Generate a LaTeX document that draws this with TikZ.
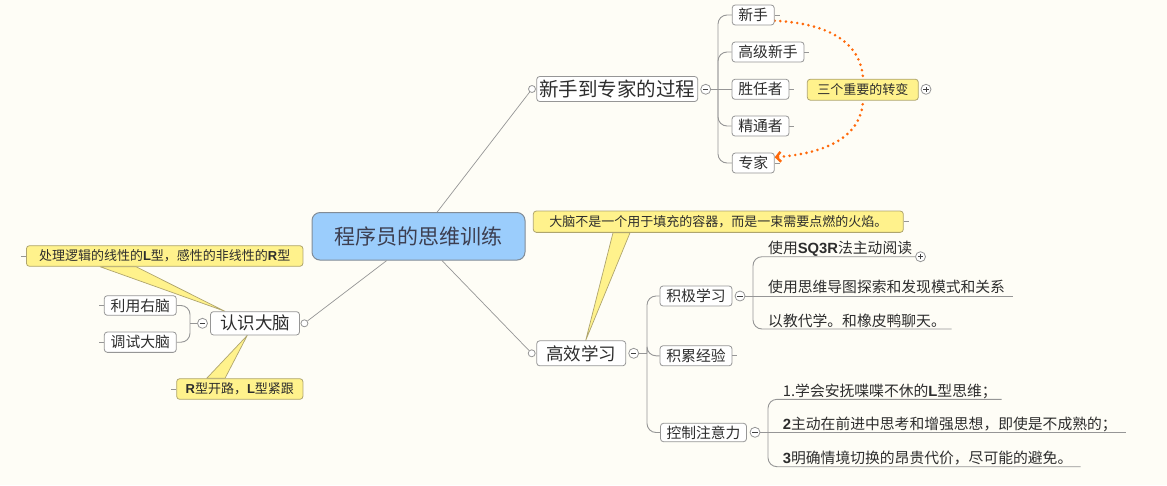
\documentclass[tikz,border=0pt]{standalone}
\usepackage{fontspec}
\setmainfont{Noto Sans CJK SC}
\newfontfamily\lat{Liberation Sans}
\usetikzlibrary{arrows.meta}
\pgfdeclarelayer{back}
\pgfdeclarelayer{bg}
\pgfsetlayers{back,bg,main}
\definecolor{bgc}{RGB}{254,253,246}
\definecolor{bord}{RGB}{150,150,150}
\definecolor{lin}{RGB}{150,150,150}
\definecolor{txt}{RGB}{45,45,45}
\definecolor{rootfill}{RGB}{155,205,252}
\definecolor{rootbord}{RGB}{130,140,150}
\definecolor{roottxt}{RGB}{60,62,80}
\definecolor{yel}{RGB}{255,242,140}
\definecolor{ybord}{RGB}{175,165,110}
\definecolor{orng}{RGB}{255,105,10}
\newcommand\myfs[1]{\fontsize{#1}{#1}\selectfont}
\newcommand\lb[1]{{\lat\bfseries #1}}
\begin{document}
\begin{tikzpicture}[x=1pt,y=-1pt,
  every node/.style={inner sep=0pt, text=txt},
  mbox/.style={draw=bord, fill=white, rounded corners=3pt, line width=0.8pt},
  ycall/.style={draw=ybord, fill=yel, rounded corners=3pt, line width=0.8pt},
  ptr/.style={draw=ybord, fill=yel, line width=0.7pt, line join=round},
  conn/.style={draw=lin, line width=0.9pt},
  rootconn/.style={draw=lin, line width=0.7pt},
  elbow/.style={conn, rounded corners=9pt},
  smallc/.style={circle, draw=bord, fill=white, minimum size=7pt, line width=0.8pt},
  minusc/.style={circle, draw=bord, fill=white, minimum size=10pt, line width=0.8pt,
    path picture={\draw[line width=1pt, black!75]
      ([xshift=-2.6pt]path picture bounding box.center) -- ([xshift=2.6pt]path picture bounding box.center);}},
  plusc/.style={minusc, path picture={\draw[line width=1pt, black!75]
      ([xshift=-2.6pt]path picture bounding box.center) -- ([xshift=2.6pt]path picture bounding box.center)
      ([yshift=-2.6pt]path picture bounding box.center) -- ([yshift=2.6pt]path picture bounding box.center);}},
  dotline/.style={draw=orng, line width=2.9pt, line cap=round, dash pattern=on 0pt off 5.7pt}
]
\begin{pgfonlayer}{back}
\fill[bgc] (0,0) rectangle (1167,485);
\end{pgfonlayer}
\useasboundingbox (0,0) rectangle (1167,485);

% root
\node[mbox, fill=rootfill, draw=rootbord, rounded corners=8pt, line width=1pt,
  minimum width=213pt, minimum height=47.5pt, text=roottxt] (root) at (418.5,236.3) {\myfs{21}程序员的思维训练};

% ---------- branch 1
\node[mbox, minimum width=161pt, minimum height=25pt] (n1) at (617.2,89) {\myfs{19.5}新手到专家的过程};
\node[smallc] (n1c) at (532,89) {};
\node[minusc] (m1) at (705.7,89.3) {};
\coordinate (j1) at (718,89.3);
\node[mbox, minimum width=42pt, minimum height=20pt] (a1) at (753.2,15) {\myfs{14.8}新手};
\node[mbox, minimum width=72pt, minimum height=20pt] (a2) at (768,52) {\myfs{14.8}高级新手};
\node[mbox, minimum width=57pt, minimum height=20pt] (a3) at (760.5,89.3) {\myfs{14.8}胜任者};
\node[mbox, minimum width=57pt, minimum height=20pt] (a4) at (760.5,126) {\myfs{14.8}精通者};
\node[mbox, minimum width=42pt, minimum height=20pt] (a5) at (753.3,163) {\myfs{14.8}专家};
\node[ycall, minimum width=111pt, minimum height=21pt] (c1) at (862.8,89.7) {\myfs{13}三个重要的转变};
\node[plusc] (p1) at (926,89.3) {};

\draw[rootconn] (root) -- (n1c);
\draw[conn] (m1) -- (j1);
\draw[elbow] (j1) |- (a1);
\draw[elbow] (j1) |- (a2);
\draw[conn] (j1) -- (a3);
\draw[elbow] (j1) |- (a4);
\draw[elbow] (j1) |- (a5);
\foreach \n in {a1,a2,a3,a4,a5} \draw[conn] (\n.east) -- ++(5,0);

\begin{pgfonlayer}{bg}
\draw[dotline, -{Straight Barb[length=4.5pt,width=10pt,line width=2.4pt]}]
  (a1.-15) .. controls (842,24) and (866.5,52) .. (c1.center)
  .. controls (866.5,127) and (842,152) .. (a5.15);
\end{pgfonlayer}

% ---------- branch 2
\node[mbox, minimum width=89pt, minimum height=23.3pt] (n2) at (255,323.3) {\myfs{17.5}认识大脑};
\node[smallc] (n2c) at (304.4,323.3) {};
\node[minusc] (m2) at (202.5,323.3) {};
\coordinate (j2) at (190,323.3);
\node[mbox, minimum width=72pt, minimum height=19.6pt] (b1) at (140.3,305.5) {\myfs{14.8}利用右脑};
\node[mbox, minimum width=72pt, minimum height=20.3pt] (b2) at (140.3,342.2) {\myfs{14.8}调试大脑};
\node[ycall, minimum width=276.5pt, minimum height=20.6pt] (c2) at (164.7,256) {\myfs{13}处理逻辑的线性的\lb{L}型，感性的非线性的\lb{R}型};
\node[ycall, minimum width=126.3pt, minimum height=20.6pt] (c3) at (239.8,389) {\myfs{13}\lb{R}型开路，\lb{L}型紧跟};

\draw[rootconn] (root) -- (n2c);
\draw[conn] (m2) -- (j2);
\draw[elbow] (j2) |- (b1);
\draw[elbow] (j2) |- (b2);
\draw[conn] (b1.west) -- ++(-5,0);
\draw[conn] (b2.west) -- ++(-5,0);
\draw[conn] (c2.west) -- ++(-5,0);
\draw[conn] (c3.west) -- ++(-5,0);

\begin{pgfonlayer}{bg}
\draw[ptr] ([xshift=-64.7pt]c2.south) -- ([xshift=14.8pt]n2.north west) -- ([xshift=-28.7pt]c2.south) -- cycle;
\draw[ptr] ([xshift=-33.1pt]c3.north) -- ([xshift=-7.7pt]n2.south) -- ([xshift=-14.8pt]c3.north) -- cycle;
\end{pgfonlayer}

% ---------- branch 3
\node[mbox, minimum width=89pt, minimum height=25pt] (n3) at (581.2,353.3) {\myfs{17.5}高效学习};
\node[smallc] (n3c) at (531.7,353.3) {};
\node[minusc] (m3) at (633.7,353.3) {};
\coordinate (j3) at (647,353.3);
\node[ycall, minimum width=370pt, minimum height=21.3pt] (c4) at (718.3,221.7) {\myfs{13}大脑不是一个用于填充的容器，而是一束需要点燃的火焰。};
\draw[conn] (c4.east) -- ++(5,0);

\node[mbox, minimum width=72pt, minimum height=20pt] (d1) at (696,296) {\myfs{14.8}积极学习};
\node[mbox, minimum width=72pt, minimum height=20pt] (d2) at (696,355.8) {\myfs{14.8}积累经验};
\node[mbox, minimum width=86pt, minimum height=18.4pt] (d3) at (703.5,432.5) {\myfs{14.8}控制注意力};
\draw[conn] (d2.east) -- ++(5,0);
\node[minusc] (m4) at (740,296) {};
\node[minusc] (m5) at (755,432.3) {};
\coordinate (j4) at (753,296);
\coordinate (j5) at (768,432.3);

\draw[rootconn] (root) -- (n3c);
\draw[conn] (m3) -- (j3);
\draw[elbow] (j3) |- (d1);
\draw[elbow] (j3) |- (d2);
\draw[elbow] (j3) |- (d3);

\begin{pgfonlayer}{bg}
\draw[ptr] ([xshift=-105.3pt]c4.south) -- ([xshift=4.5pt]n3.north) -- ([xshift=-88.3pt]c4.south) -- cycle;
\end{pgfonlayer}

% underlined children of 积极学习
\node[anchor=base west] (e1) at (768,253.7) {\myfs{14.8}使用\lb{SQ3R}法主动阅读};
\node[anchor=base west] (e2) at (768,292.6) {\myfs{14.8}使用思维导图探索和发现模式和关系};
\node[anchor=base west] (e3) at (768,326) {\myfs{14.8}以教代学。和橡皮鸭聊天。};
\coordinate (u1) at (915,256.7);
\coordinate (u2) at (1012.7,296);
\coordinate (u3) at (951.7,329);
\draw[elbow] (j4) |- (u1);
\draw[conn] (m4) -- (u2);
\draw[elbow] (j4) |- (u3);
\node[plusc] (p2) at (920.5,256.7) {};

% underlined children of 控制注意力
\node[anchor=base west] (f1) at (782.7,396.3) {\myfs{14.8}1.学会安抚喋喋不休的\lb{L}型思维；};
\node[anchor=base west] (f2) at (782.7,429.3) {\myfs{14.8}\lb{2}主动在前进中思考和增强思想，即使是不成熟的；};
\node[anchor=base west] (f3) at (782.7,463.7) {\myfs{14.8}\lb{3}明确情境切换的昂贵代价，尽可能的避免。};
\coordinate (u4) at (1001.7,399.3);
\coordinate (u5) at (1126,432.3);
\coordinate (u6) at (1080.7,466.7);
\draw[elbow] (j5) |- (u4);
\draw[conn] (m5) -- (u5);
\draw[elbow] (j5) |- (u6);
\end{tikzpicture}
\end{document}
